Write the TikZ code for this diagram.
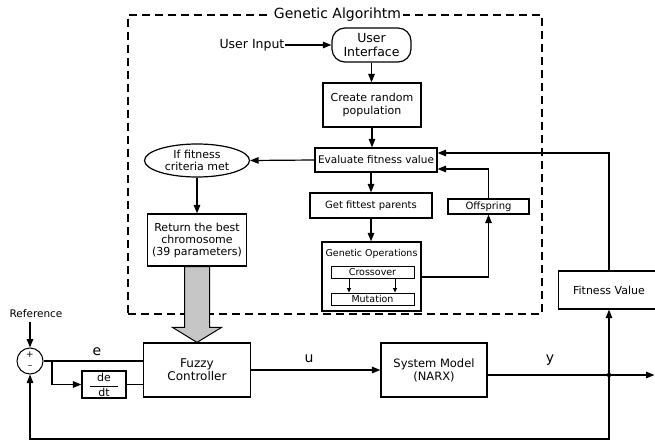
\documentclass[tikz,border=0pt]{standalone}
\usepackage{fontspec}
\setmainfont{DejaVu Sans}
\usetikzlibrary{arrows.meta,calc,shapes.geometric}
\newcommand\fsz[2]{\fontsize{#1}{#2}\selectfont}
\begin{document}
\begin{tikzpicture}[x=1pt,y=-1pt,
  line width=1.2pt,
  box/.style={draw, inner sep=0pt, align=center},
  arr/.style={-{Triangle[length=8.5pt,width=6.5pt]}},
  sarr/.style={-{Triangle[length=4.5pt,width=4pt]}, line width=0.9pt},
  lbl/.style={inner sep=0pt},
]
\useasboundingbox (0,0) rectangle (655,441);

% Genetic algorithm frame
\node[draw, dash pattern=on 8pt off 5pt, line width=1.4pt, inner sep=0pt,
      minimum width=414, minimum height=299] (ga) at (335,164.5) {};
\node[fill=white, inner sep=1.5pt, font=\fsz{14}{16}] (gat) at (337.5,15) {Genetic Algorihtm};

\node[box, minimum width=79, minimum height=34, rounded corners=13pt, font=\fsz{12.5}{14}] (ui) at (371.5,45) {User\\Interface};
\node[lbl, anchor=east, font=\fsz{12.5}{14}] (uin) at (285,45) {User Input};
\draw[arr] (uin) -- (ui);

\node[box, minimum width=98, minimum height=44, font=\fsz{11}{13}] (crp) at (372,105) {Create random\\population};
\draw[arr] (ui.south) -- (ui.south |- crp.north);

\node[box, minimum width=122, minimum height=24, font=\fsz{10.5}{12}] (ev) at (376,160) {Evaluate fitness value};
\draw[arr] (crp.south) -- (crp.south |- ev.north);

\node[ellipse, draw, minimum width=105, minimum height=33, inner sep=0pt, align=center, font=\fsz{11}{12}] (fit) at (197,160.5) {If fitness\\criteria met};
\draw[arr] (ev.west) -- (fit.east);

\node[box, minimum width=99, minimum height=52, font=\fsz{11}{12}] (ret) at (197,240) {Return the best\\chromosome\\(39 parameters)};
\draw[arr] (fit) -- (ret);

\node[box, minimum width=122, minimum height=25, font=\fsz{10}{12}] (gfp) at (371,205.5) {Get fittest parents};
\draw[arr] (gfp.north |- ev.south) -- (gfp.north);

\node[box, minimum width=99, minimum height=69] (go) at (371.5,276.5) {};
\node[lbl, font=\fsz{9.5}{11}] (golab) at (371.5,253.5) {Genetic Operations};
\draw[arr] (gfp.south) -- (gfp.south |- go.north);
\node[box, minimum width=83, minimum height=11.5, line width=1pt, font=\fsz{9.5}{10}] (cro) at (372.5,272.5) {Crossover};
\node[box, minimum width=83, minimum height=12, line width=1pt, font=\fsz{9.5}{10}] (mut) at (372.5,299) {Mutation};
\draw[sarr] (cro.south -| 349,0) -- (mut.north -| 349,0);
\draw[sarr] (cro.south -| 395,0) -- (mut.north -| 395,0);

\node[box, minimum width=81, minimum height=15, font=\fsz{10}{11}] (off) at (488.5,206.5) {Offspring};
\draw[arr] (go.east |- 0,277) -| (off.south);
\draw[arr] (off.north) |- (ev.east |- 0,169);

\node[box, minimum width=101, minimum height=38, font=\fsz{11}{12}] (fv) at (609,290) {Fitness Value};
\draw[arr] (fv.north) |- (ev.east |- 0,153);

% control loop
\node[box, minimum width=107, minimum height=54, font=\fsz{12}{13}] (fc) at (197,370) {Fuzzy\\Controller};
\draw[fill=gray!45, line width=1pt]
  ($(ret.south)+(-12.5,0)$) -- ($(fc.north)+(-12.5,-15)$) -- ($(fc.north)+(-24.5,-15)$)
  -- (fc.north) -- ($(fc.north)+(24.5,-15)$) -- ($(fc.north)+(12.5,-15)$)
  -- ($(ret.south)+(12.5,0)$) -- cycle;

\node[circle, draw, minimum size=26, inner sep=0pt, line width=1pt] (sum) at (30,361) {};
\node[lbl, font=\fsz{9}{9}] (plus) at (30,355) {+};
\node[lbl, font=\fsz{9}{9}] (minus) at (30,367.5) {–};
\node[lbl, font=\fsz{10.5}{12}] (ref) at (36,314) {Reference};
\draw[arr] (sum.north |- 0,322) -- (sum.north);

\draw (sum.east) -- (fc.west |- sum.east);
\node[lbl, font=\fsz{14}{16}] (elab) at (97,352) {e};
\coordinate (br) at (52,361);
\node[box, minimum width=44, minimum height=27, font=\fsz{11}{12}] (dd) at (104,384.5)
  {$\displaystyle\frac{\hbox to 28pt{\hss de\hss}}{\hbox to 28pt{\hss dt\hss}}$};
\draw[arr] (br) |- (dd.west);
\draw (dd.east) -- (fc.west |- dd.east);

\node[box, minimum width=106, minimum height=54, font=\fsz{11.5}{13}] (sm) at (434,370) {System Model\\(NARX)};
\draw[arr] (fc.east) -- (sm.west);
\node[lbl, font=\fsz{14}{16}] (ulab) at (309,359) {u};

\coordinate (dot) at (609,375);
\coordinate (yend) at (654.5,375);
\coordinate (bl) at (30,439);
\draw[arr] (sm.east |- dot) -- (yend);
\node[lbl, font=\fsz{14}{16}] (ylab) at (550,360) {y};
\fill (dot) circle (2.2pt);
\draw[arr] (dot) -- (fv.south);
\draw[arr] (dot) |- (bl) -- (sum.south);
\end{tikzpicture}
\end{document}
